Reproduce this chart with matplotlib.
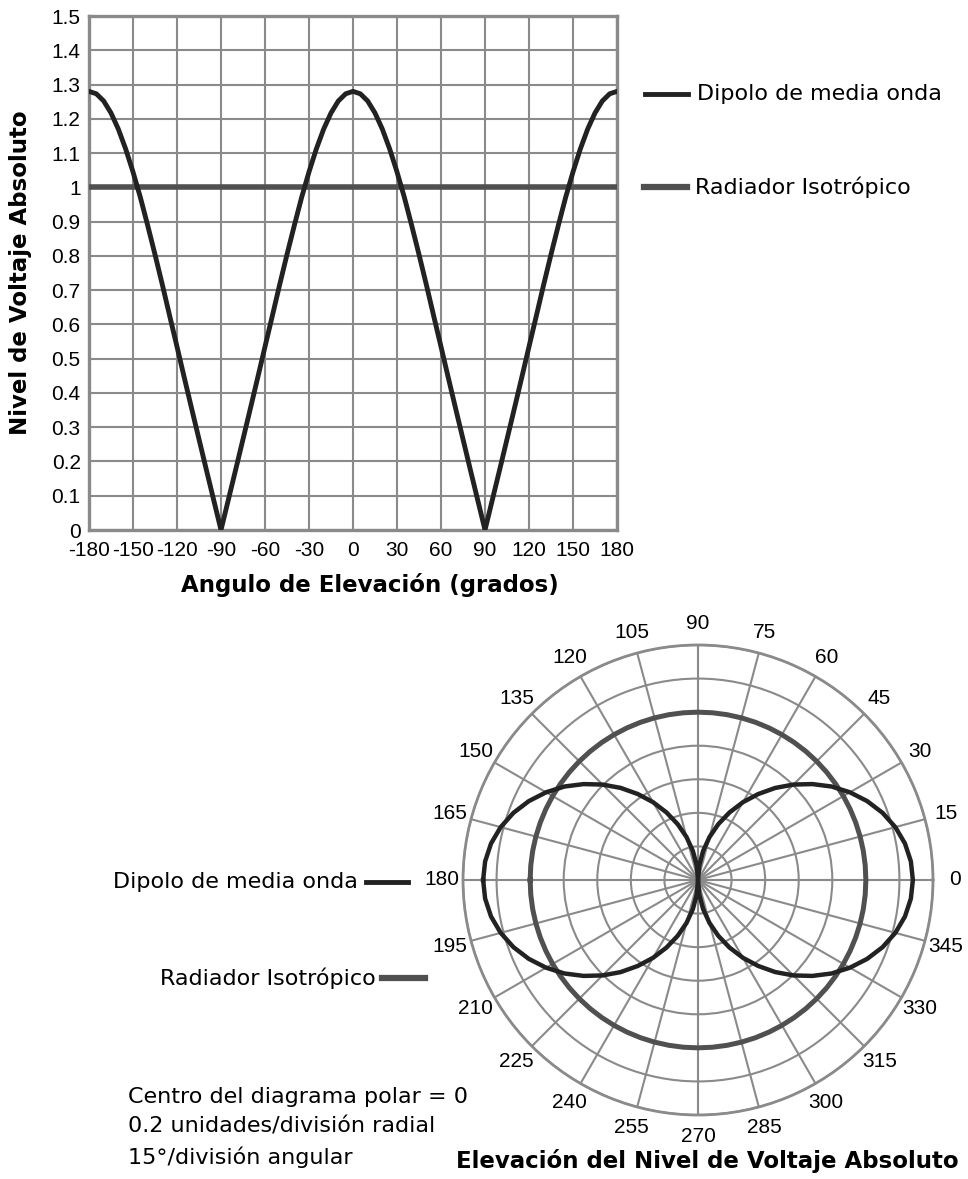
import numpy as np
import matplotlib.pyplot as plt

# numeros con fuente tipo Arial, textos con una fuente mas ancha
plt.rcParams['font.family'] = ['Liberation Sans', 'DejaVu Sans']
plt.rcParams['axes.unicode_minus'] = False

# angulo de elevacion (grados), cada 5 grados
elevacion = list(range(-180, 185, 5))

# nivel de voltaje absoluto
dipolo = [1.280, 1.273, 1.252, 1.217, 1.170, 1.112, 1.045, 0.971, 0.889, 0.804, 0.716, 0.625, 0.535, 0.444, 0.354, 0.265, 0.176, 0.088, 0.000,
          0.088, 0.176, 0.265, 0.354, 0.444, 0.535, 0.625, 0.716, 0.804, 0.889, 0.971, 1.045, 1.112, 1.170, 1.217, 1.252, 1.273, 1.280,
          1.273, 1.252, 1.217, 1.170, 1.112, 1.045, 0.971, 0.889, 0.804, 0.716, 0.625, 0.535, 0.444, 0.354, 0.265, 0.176, 0.088, 0.000,
          0.088, 0.176, 0.265, 0.354, 0.444, 0.535, 0.625, 0.716, 0.804, 0.889, 0.971, 1.045, 1.112, 1.170, 1.217, 1.252, 1.273, 1.280]
isotropico = [1.0] * len(elevacion)

# ticks
x_ticks = list(range(-180, 181, 30))
y_ticks = [0, 0.1, 0.2, 0.3, 0.4, 0.5, 0.6, 0.7, 0.8, 0.9, 1.0, 1.1, 1.2, 1.3, 1.4, 1.5]
y_labels = ["0", "0.1", "0.2", "0.3", "0.4", "0.5", "0.6", "0.7", "0.8", "0.9", "1",
            "1.1", "1.2", "1.3", "1.4", "1.5"]
polar_angulos = list(range(0, 360, 15))
polar_anillos = [0.2, 0.4, 0.6, 0.8, 1.0, 1.2, 1.4]

# estilos
C_DIPOLO = "#222222"
C_ISO = "#505050"
C_GRID = "#8a8a8a"
FS_NUM = 15
FS_TXT = 16
FS_TIT = 16.5
TXT = ['DejaVu Sans']

W, H = 968, 1179
fig = plt.figure(figsize=(W / 100, H / 100), dpi=100)

# ---------------- grafico cartesiano ----------------
ax = fig.add_axes([89 / W, 1 - 530 / H, (617 - 89) / W, (530 - 16) / H])
ax.plot(elevacion, isotropico, color=C_ISO, lw=4.0, solid_capstyle="butt", zorder=3)
ax.plot(elevacion, dipolo, color=C_DIPOLO, lw=3.5, solid_joinstyle="round", zorder=4)
ax.set_xlim(-180, 180)
ax.set_ylim(0, 1.5)
ax.set_xticks(x_ticks)
ax.set_yticks(y_ticks)
ax.set_yticklabels(y_labels)
ax.grid(True, color=C_GRID, lw=1.5)
ax.tick_params(length=0, labelsize=FS_NUM)
ax.tick_params(axis="x", pad=8)
ax.tick_params(axis="y", pad=6)
for s in ax.spines.values():
    s.set_color(C_GRID)
    s.set_linewidth(2.4)
ax.set_xlabel("Angulo de Elevación (grados)", fontsize=FS_TIT, fontweight="bold", family=TXT)
ax.set_ylabel("Nivel de Voltaje Absoluto", fontsize=FS_TIT, fontweight="bold", family=TXT)
ax.xaxis.set_label_coords((370 - 89) / 528, -(573 - 530) / 514)
ax.yaxis.set_label_coords(-(89 - 32) / 528, 0.5)

# leyenda de la derecha
fig.add_artist(plt.Line2D([645 / W, 688 / W], [1 - 94 / H, 1 - 94 / H], color=C_DIPOLO, lw=3.5))
fig.text(697 / W, 1 - 94 / H, "Dipolo de media onda", fontsize=FS_TXT, family=TXT, va="center", ha="left")
fig.add_artist(plt.Line2D([644 / W, 687 / W], [1 - 187 / H, 1 - 187 / H], color=C_ISO, lw=4.5))
fig.text(695 / W, 1 - 187 / H, "Radiador Isotrópico", fontsize=FS_TXT, family=TXT, va="center", ha="left")

# ---------------- grafico polar ----------------
cx, cy, r = 698, 880, 235
pax = fig.add_axes([(cx - r) / W, 1 - (cy + r) / H, 2 * r / W, 2 * r / H], projection="polar")
theta = np.radians(elevacion)
pax.plot(theta, isotropico, color=C_ISO, lw=3.6, zorder=3)
pax.plot(theta, dipolo, color=C_DIPOLO, lw=3.2, solid_joinstyle="round", zorder=4)
pax.set_ylim(0, 1.4)
pax.set_rgrids(polar_anillos, labels=[""] * len(polar_anillos))
pax.set_thetagrids(polar_angulos, labels=[str(a) for a in polar_angulos])
pax.grid(True, color=C_GRID, lw=1.5)
pax.spines["polar"].set_color(C_GRID)
pax.spines["polar"].set_linewidth(2.0)
pax.tick_params(axis="x", labelsize=FS_NUM, pad=5)

# titulo del polar
fig.text(707 / W, 1 - 1161 / H, "Elevación del Nivel de Voltaje Absoluto", fontsize=FS_TIT,
         fontweight="bold", family=TXT, va="center", ha="center")

# leyenda de la izquierda
fig.text(358 / W, 1 - 882 / H, "Dipolo de media onda", fontsize=FS_TXT, family=TXT, va="center", ha="right")
fig.add_artist(plt.Line2D([366 / W, 408 / W], [1 - 882 / H, 1 - 882 / H], color=C_DIPOLO, lw=3.5))
fig.text(376 / W, 1 - 978 / H, "Radiador Isotrópico", fontsize=FS_TXT, family=TXT, va="center", ha="right")
fig.add_artist(plt.Line2D([382 / W, 425 / W], [1 - 978 / H, 1 - 978 / H], color=C_ISO, lw=4.5))

# notas
notas = ["Centro del diagrama polar = 0", "0.2 unidades/división radial", "15°/división angular"]
for i, t in enumerate(notas):
    fig.text(128 / W, 1 - (1097 + 30 * i) / H, t, fontsize=FS_TXT, family=TXT, va="center", ha="left")

fig.savefig("out.png", dpi=100)
